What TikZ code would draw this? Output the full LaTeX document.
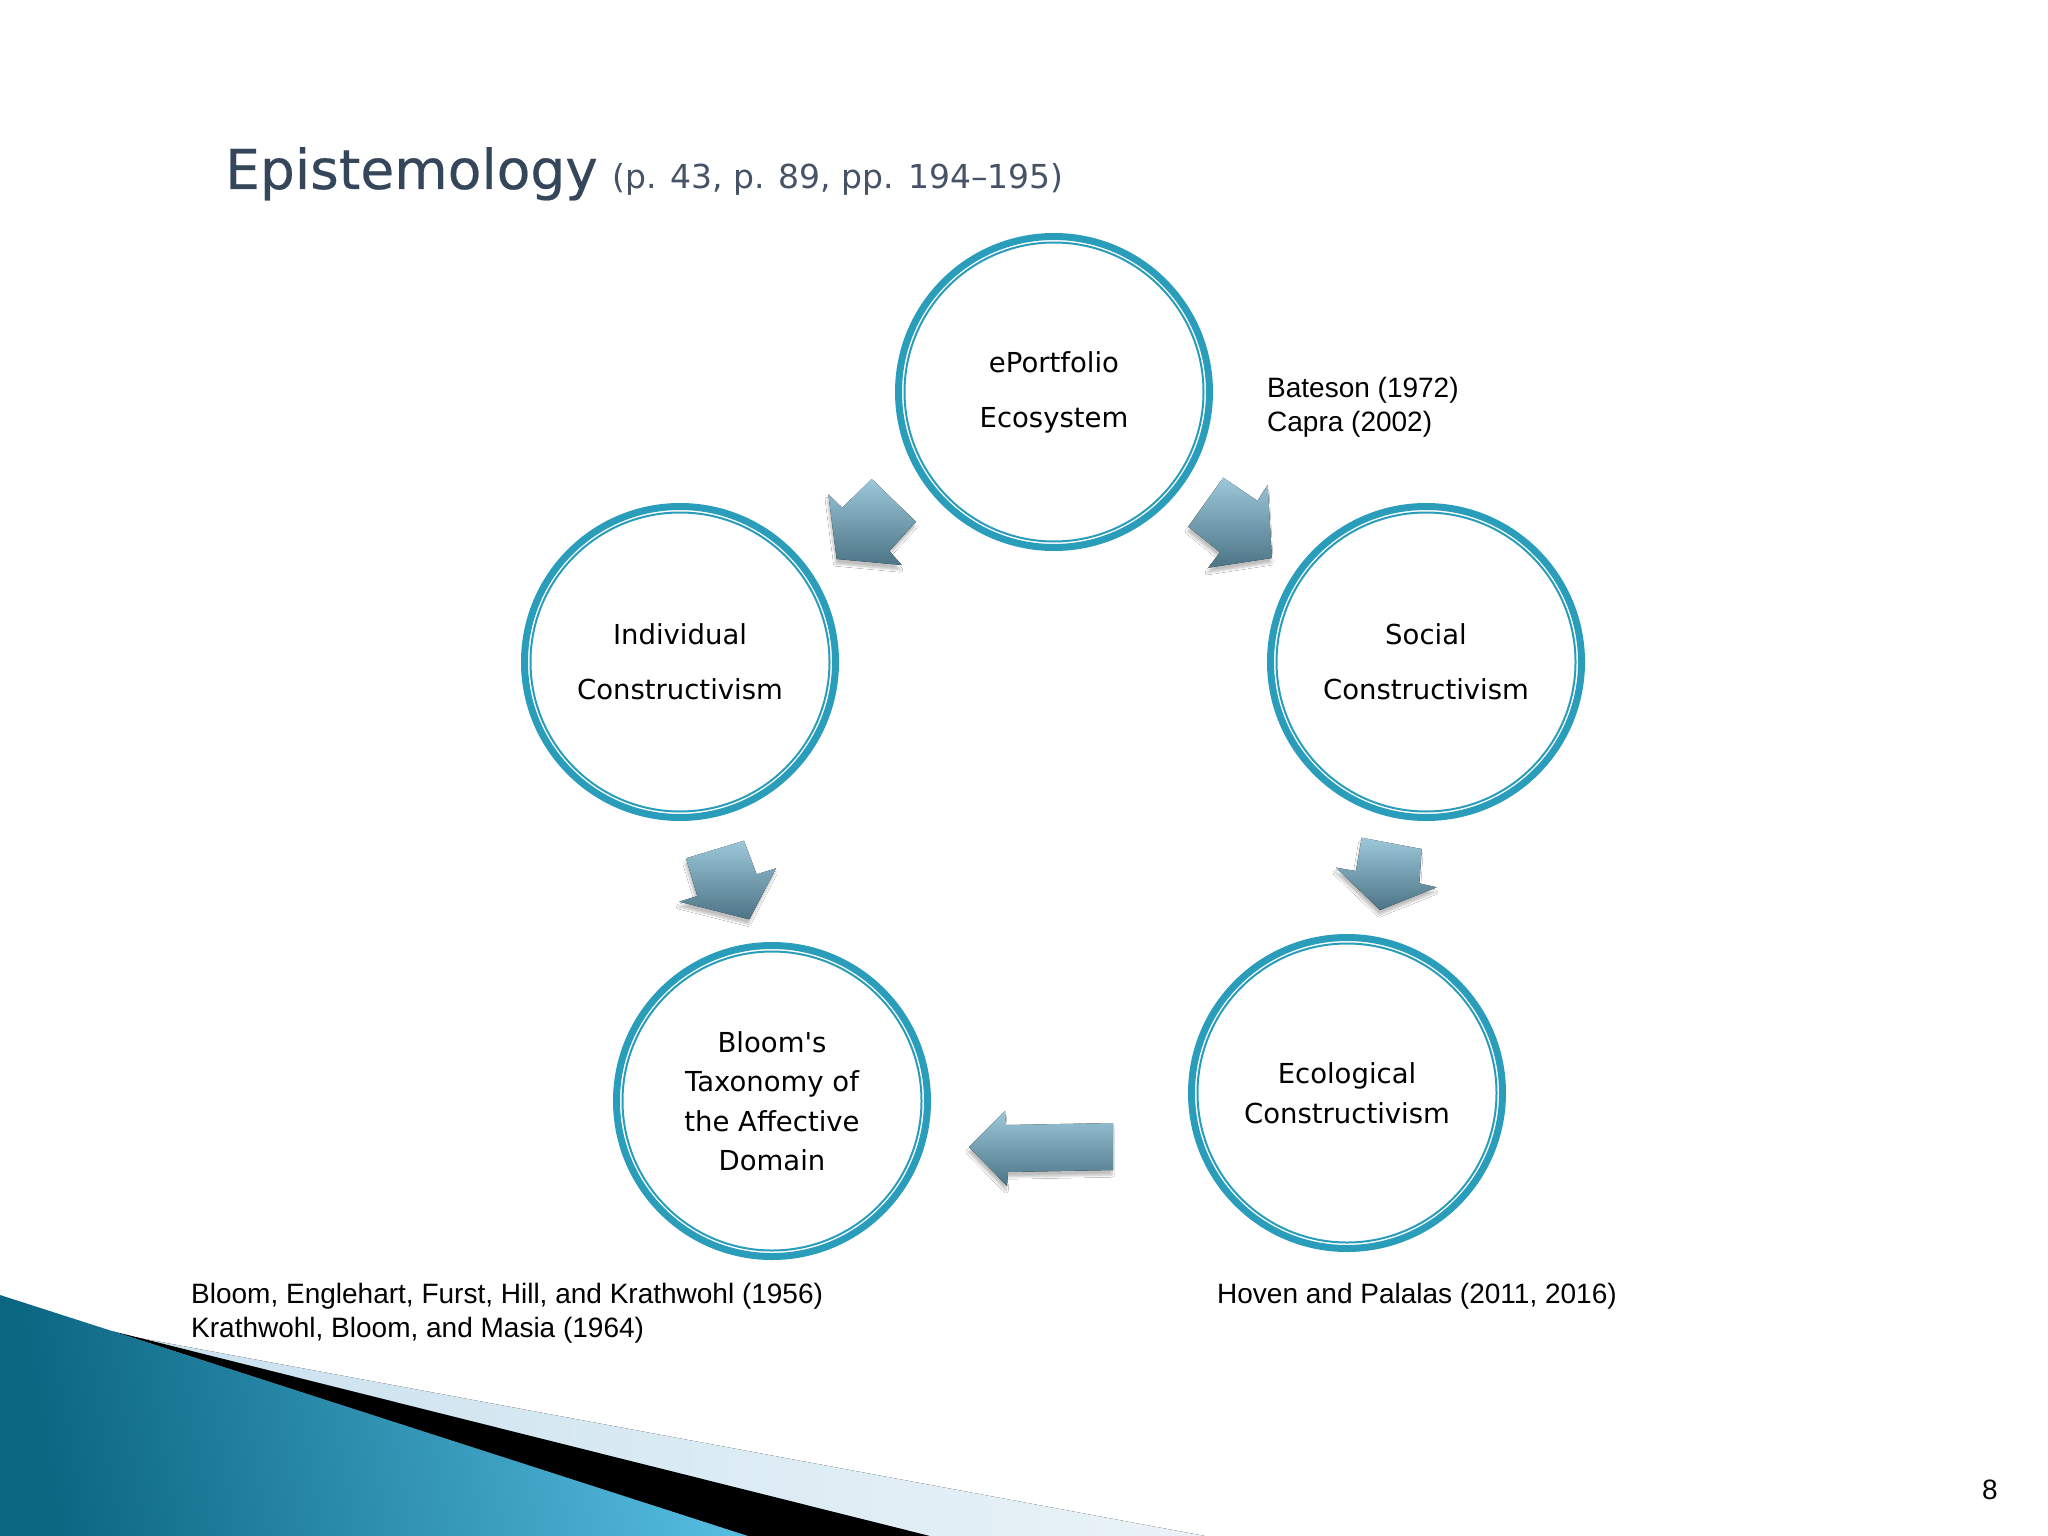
\documentclass[tikz,border=0pt]{standalone}
\usepackage{fontspec}
\setmainfont{DejaVu Sans}[Ligatures=TeXOff]
\newfontfamily\titlefont{DejaVu Sans}[FakeBold=0.4]
\newfontfamily\arialfont{Liberation Sans}
\usetikzlibrary{shadows.blur}
\definecolor{ringc}{HTML}{2A9DBB}
\definecolor{titlec}{HTML}{35465B}
\definecolor{subc}{HTML}{465366}
\definecolor{arrtop}{HTML}{9CC8D9}
\definecolor{arrbot}{HTML}{4C7486}
\definecolor{decdark}{HTML}{0B6682}
\definecolor{declight}{HTML}{55BCE0}
\definecolor{bandc}{HTML}{C9E1EE}
\definecolor{bandl}{HTML}{EAF3F8}
\tikzset{
  ring/.style={circle, draw=ringc, line width=7pt, minimum size=311pt, inner sep=0pt, align=center, text=black},
  ringtext/.style={font=\fontsize{27.5}{55}\selectfont},
  ringtextb/.style={font=\fontsize{27.5}{39.5}\selectfont},
  inring/.style={draw=ringc, line width=2pt},
  blockarrow/.style={top color=arrtop, bottom color=arrbot, draw=none,
    blur shadow={shadow xshift=-1pt, shadow yshift=-5pt, shadow blur steps=6, shadow opacity=25}},
  cite/.style={font=\arialfont\fontsize{28}{34}\selectfont, align=left, inner sep=0pt, text=black}
}
\begin{document}
\begin{tikzpicture}[x=1pt,y=1pt]
\useasboundingbox[fill=white] (0,0) rectangle (2048,-1536);

% bottom-left decoration
\fill[left color=bandc, right color=bandl] (118,-1334) -- (1205,-1536) -- (740,-1536) -- cycle;
\fill[black] (112,-1331) -- (930,-1536) -- (745,-1536) -- cycle;
\shade[left color=decdark, right color=declight, shading angle=100] (0,-1295) -- (112,-1331) -- (748,-1536) -- (0,-1536) -- cycle;

% title
\node[anchor=base west, inner sep=0pt, text=titlec, font=\titlefont\fontsize{55}{60}\selectfont] (title) at (225,-189) {Epistemology};
\node[anchor=base west, inner sep=0pt, text=subc, font=\fontsize{33}{36}\selectfont] (pages) at (612,-189) {(p. 43, p. 89, pp. 194–195)};

% circles
\node[ring, ringtext] (eco) at (1054,-392) {ePortfolio\\Ecosystem};
\node[ring, ringtext] (ind) at (680,-662) {Individual\\Constructivism};
\node[ring, ringtext] (soc) at (1426,-662) {Social\\Constructivism};
\node[ring, ringtextb] (blo) at (772,-1101) {Bloom's\\Taxonomy of\\the Affective\\Domain};
\node[ring, ringtextb] (ecl) at (1347,-1093) {Ecological\\Constructivism};
\foreach \n in {eco,ind,soc,blo,ecl} \draw[inring] (\n.center) circle[radius=149.5];

% block arrows
\fill[blockarrow] (871.7,-479) -- (916,-521.7) -- (889.3,-551) -- (901.7,-565) -- (836.7,-559) -- (828.3,-494.3) -- (842.3,-507.7) -- cycle;
\fill[blockarrow] (1223.3,-477.7) -- (1257.7,-501) -- (1267.7,-485) -- (1272,-558) -- (1208.3,-567.7) -- (1220,-552.3) -- (1188.3,-526.7) -- cycle;
\fill[blockarrow] (686,-858.3) -- (744,-840.7) -- (756.7,-874.3) -- (776,-868.3) -- (749.3,-919.3) -- (679.3,-901.7) -- (697.3,-896) -- cycle;
\fill[blockarrow] (1361.7,-837.7) -- (1421.7,-849) -- (1419.3,-883.3) -- (1436.7,-887.3) -- (1380,-910) -- (1336,-867.7) -- (1356,-871) -- cycle;
\fill[blockarrow] (1113,-1123) -- (1113,-1170) -- (1008,-1172) -- (1007,-1186) -- (969,-1147) -- (1005,-1111) -- (1006,-1125) -- cycle;

% citations
\node[cite, anchor=west] (c1) at (1267,-407) {Bateson (1972)\\Capra (2002)};
\node[cite, anchor=west] (c2) at (191,-1313) {Bloom, Englehart, Furst, Hill, and Krathwohl (1956)\\Krathwohl, Bloom, and Masia (1964)};
\node[cite, anchor=west] (c3) at (1217,-1296) {Hoven and Palalas (2011, 2016)};
\node[cite] (pg) at (1990,-1490) {8};
\end{tikzpicture}
\end{document}
